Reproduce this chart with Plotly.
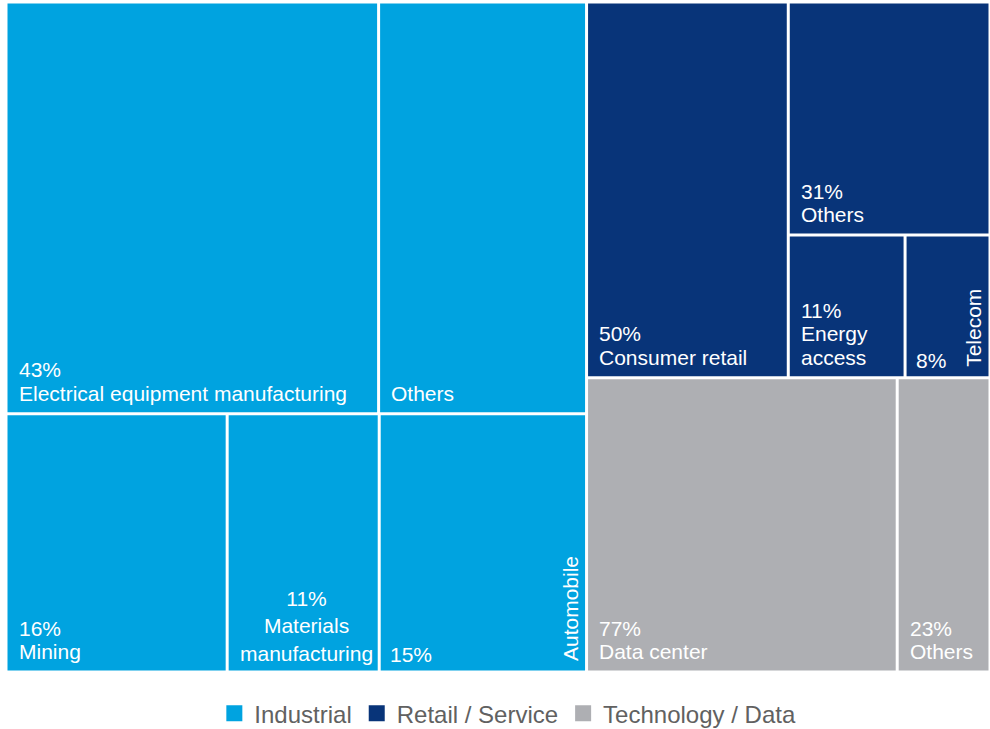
import plotly.graph_objects as go

# ---- data -------------------------------------------------------------
sectors = ["Industrial", "Retail / Service", "Technology / Data"]
sector_weights = [59, 23, 18]
sector_colors = ["#00A3E0", "#083479", "#AEAFB3"]

industrial_names = ["Electrical equipment manufacturing", "Others", "Mining",
                    "Materials<br>manufacturing", "Automobile"]
industrial_values = [43, 24, 16, 11, 15]
industrial_show_pct = [True, False, True, True, True]
industrial_style = ["stack", "stack", "stack", "center", "rotated"]

retail_names = ["Consumer retail", "Others", "Energy<br>access", "Telecom"]
retail_values = [50, 31, 11, 8]
retail_show_pct = [True, True, True, True]
retail_style = ["stack", "stack", "stack", "rotated"]

tech_names = ["Data center", "Others"]
tech_values = [77, 23]
tech_show_pct = [True, True]
tech_style = ["stack", "stack"]

# ---- tiling (h = side by side, v = stacked top to bottom) -------------
sector_tiling = ("h", [0, ("v", [1, 2])])
industrial_tiling = ("v", [("h", [0, 1]), ("h", [2, 3, 4])])
retail_tiling = ("h", [0, ("v", [1, ("h", [2, 3])])])
tech_tiling = ("h", [0, 1])

W, H = 984, 670          # plot area in px; axes use px units
GAP = 1.5                # half of the white gutter between tiles
FONT = "Liberation Sans, Arial, sans-serif"
LABEL_SIZE = 21
LINE_STEP = 23.5         # spacing between stacked label lines
BASE_Y = 19              # centre of the lowest label line above the tile bottom
PAD_X = 9


def total(node, vals):
    if isinstance(node, int):
        return vals[node]
    return sum(total(c, vals) for c in node[1])


def tile(node, vals, x0, y0, x1, y1, out):
    if isinstance(node, int):
        out[node] = (x0, y0, x1, y1)
        return
    direction, children = node
    s = total(node, vals)
    if direction == "h":
        x = x0
        for c in children:
            w = (x1 - x0) * total(c, vals) / s
            tile(c, vals, x, y0, x + w, y1, out)
            x += w
    else:
        y = y1
        for c in children:
            h = (y1 - y0) * total(c, vals) / s
            tile(c, vals, x0, y - h, x1, y, out)
            y -= h


sector_rects = {}
tile(sector_tiling, sector_weights, 0, 0, W, H, sector_rects)

groups = [
    (industrial_names, industrial_values, industrial_show_pct, industrial_style, industrial_tiling),
    (retail_names, retail_values, retail_show_pct, retail_style, retail_tiling),
    (tech_names, tech_values, tech_show_pct, tech_style, tech_tiling),
]

fig = go.Figure()
annotations = []
label_font = dict(family=FONT, size=LABEL_SIZE, color="white")


def text_line(x, y, text, row, xshift=PAD_X):
    return dict(x=x, y=y, xref="x", yref="y", text=text, showarrow=False,
                xanchor="left", yanchor="middle", xshift=xshift,
                yshift=BASE_Y + row * LINE_STEP, font=label_font)


for si, (names, vals, show_pct, styles, tiling) in enumerate(groups):
    rects = {}
    tile(tiling, vals, *sector_rects[si], rects)
    color = sector_colors[si]
    for i, name in enumerate(names):
        x0, y0, x1, y1 = rects[i]
        x0, y0, x1, y1 = x0 + GAP, y0 + GAP, x1 - GAP, y1 - GAP
        fig.add_trace(go.Scatter(
            x=[x0, x1, x1, x0, x0], y=[y0, y0, y1, y1, y0],
            mode="lines", fill="toself", fillcolor=color,
            line=dict(width=0, color=color), showlegend=False,
            hoveron="fills", name=f"{sectors[si]}: {name.replace('<br>', ' ')} {vals[i]}%",
        ))
        pct = f"{vals[i]}%"
        style = styles[i]
        if style == "rotated":
            a = text_line(x0, y0, pct, 0, xshift=PAD_X - 2)
            a["yshift"] = BASE_Y - 3
            annotations.append(a)
            annotations.append(dict(
                x=x1, y=y0, xref="x", yref="y", text=name, showarrow=False,
                textangle=-90, xanchor="center", yanchor="bottom",
                xshift=-15, yshift=7, font=label_font))
        elif style == "center":
            text = f"{pct}<br>{name}" if show_pct[i] else name
            annotations.append(dict(
                x=x0, y=y0, xref="x", yref="y", text=text, showarrow=False,
                xanchor="left", yanchor="bottom", xshift=PAD_X, yshift=4,
                align="center", font=label_font))
        else:
            lines = name.split("<br>")
            if show_pct[i]:
                lines = [pct] + lines
            for row, line in enumerate(reversed(lines)):
                annotations.append(text_line(x0, y0, line, row))

# legend entries
for name, color in zip(sectors, sector_colors):
    fig.add_trace(go.Scatter(
        x=[None], y=[None], mode="markers", name=name,
        marker=dict(symbol="square", size=16, color=color),
    ))

fig.update_layout(
    width=990, height=729,
    margin=dict(l=6, r=0, t=2, b=57, autoexpand=False),
    paper_bgcolor="white", plot_bgcolor="white",
    xaxis=dict(range=[0, W], visible=False, fixedrange=True),
    yaxis=dict(range=[0, H], visible=False, fixedrange=True),
    annotations=annotations,
    showlegend=True,
    legend=dict(orientation="h", x=0.51, xanchor="center", y=-0.062, yanchor="middle",
                font=dict(family=FONT, size=24, color="#616161"),
                itemclick=False, itemdoubleclick=False),
    hovermode="closest",
)

fig.write_html("out.html")
